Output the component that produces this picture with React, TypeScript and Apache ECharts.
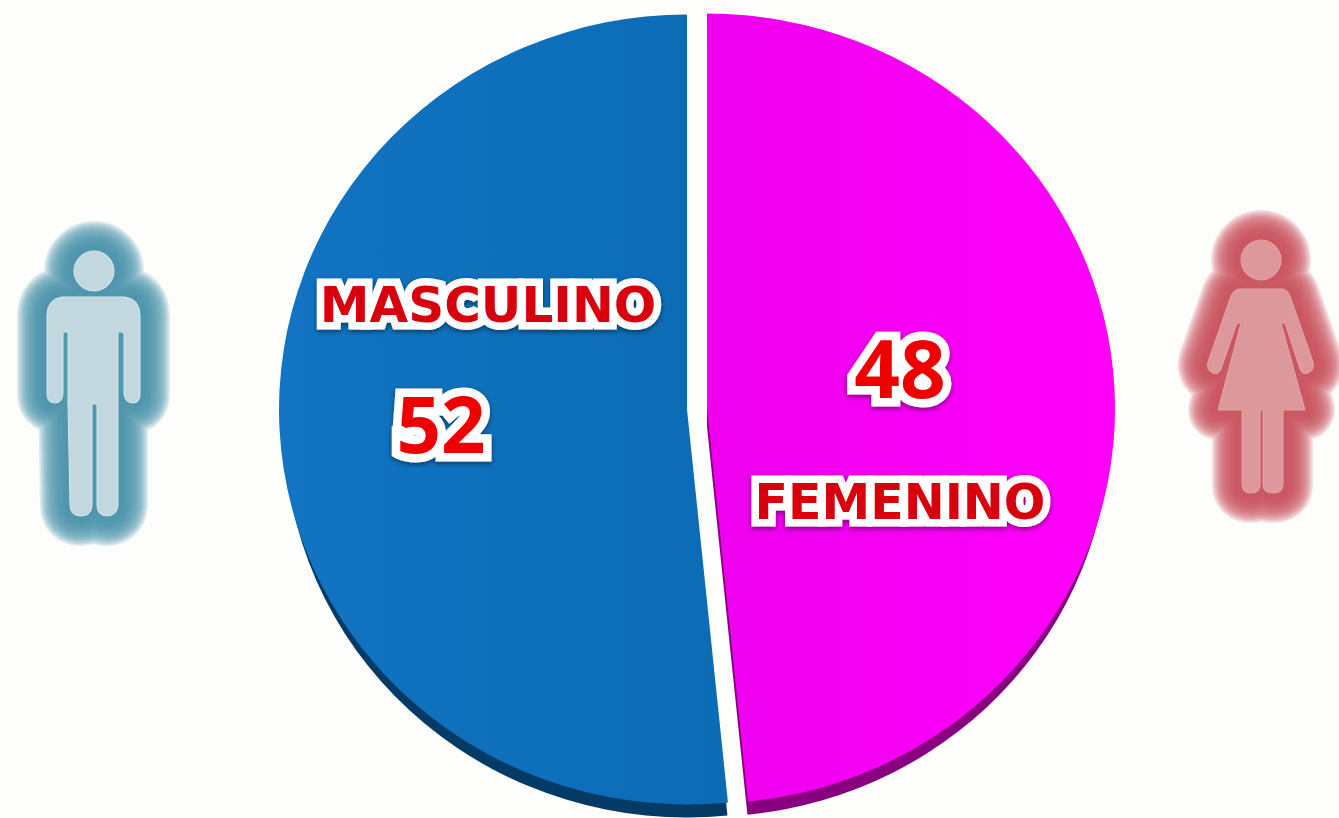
import React, { useEffect, useRef } from "react";
import * as echarts from "echarts";

const categories = ["FEMENINO", "MASCULINO"];
const values = [48.4, 51.6];
const faceColors = [
  ["#ee00ee", "#ff00fb"],
  ["#1274c2", "#0b6bb5"],
];
const shadeColors = ["#86007f", "#033a66"];

const SQUASH = 0.968;
const WIDTH = 1339;
const HEIGHT = 818;

const MAN =
  "M94 251a20 20 0 1 1 0 40a20 20 0 1 1 0-40Z" +
  "M62 297H125Q140 299 140 316V394Q140 403 133 403Q125 403 124 394V334Q124 332 121 332H118L118 505Q117 516 107 516Q97 516 97 505V404H92V505Q92 516 81 516Q70 516 70 505L68 403V332H65Q63 332 63 334V394Q62 403 55 403Q47 403 47 394V316Q47 299 62 297Z";
const WOMAN =
  "M1261 240a20 20 0 1 1 0 40a20 20 0 1 1 0-40Z" +
  "M1240 289H1282Q1287 289 1290 296L1313 362Q1315 370 1308 373Q1302 375 1300 369L1285 323H1281L1305 410H1283V485Q1283 493 1273 493Q1263 493 1263 485V410H1260V485Q1260 493 1251 493Q1242 493 1242 485V410H1218L1241 323H1237L1221 369Q1219 375 1213 373Q1206 370 1208 362L1231 296Q1234 289 1240 289Z";

echarts.graphic.registerShape("manIcon", echarts.graphic.extendPath(MAN, {}));
echarts.graphic.registerShape("womanIcon", echarts.graphic.extendPath(WOMAN, {}));

const glowWidths = [60, 57, 54, 51, 48, 45, 42, 39, 36, 33, 30, 27, 24, 21, 18, 15, 12, 9];

function icon(type: string, glow: string, inner: string, fill: string) {
  const layers: any[] = glowWidths.map((w) => ({
    type,
    silent: true,
    z: 10,
    style: { fill: glow, stroke: glow, lineWidth: w, lineJoin: "round", opacity: 0.17 },
  }));
  layers.push({
    type,
    silent: true,
    z: 11,
    style: { fill, stroke: inner, lineWidth: 1, lineJoin: "round" },
  });
  return layers;
}

function label(
  text: string,
  cx: number,
  cy: number,
  font: string,
  size: number,
  outline: number,
  color: string
) {
  return {
    type: "text",
    x: cx,
    y: cy,
    silent: true,
    z: 12,
    style: {
      text,
      fill: color,
      stroke: "#ffffff",
      lineWidth: outline,
      lineJoin: "round",
      font: `bold ${size}px ${font}`,
      align: "center",
      verticalAlign: "middle",
      textShadowColor: "rgba(0,0,0,0.5)",
      textShadowBlur: 5,
      textShadowOffsetY: 2,
    },
  };
}

function pieData(colorsFor: (i: number) => any) {
  return categories.map((name, i) => ({
    name,
    value: values[i],
    selected: true,
    itemStyle: { color: colorsFor(i) },
  }));
}

export default function App() {
  const ref = useRef<HTMLDivElement>(null);
  useEffect(() => {
    const chart = echarts.init(ref.current!, null, { renderer: "svg" });
    const basePie = {
      type: "pie",
      startAngle: 90,
      clockwise: true,
      selectedMode: "multiple",
      selectedOffset: 10,
      silent: true,
      label: { show: false },
      labelLine: { show: false },
      emphasis: { disabled: true },
    };
    chart.setOption({
      animation: false,
      backgroundColor: "transparent",
      series: [
        {
          ...basePie,
          name: "sombra",
          z: 1,
          radius: 403,
          center: [697, 422.5 + 18 / SQUASH],
          data: pieData((i) => shadeColors[i]),
        },
        {
          ...basePie,
          name: "sexo",
          z: 2,
          radius: 408,
          center: [697, 422.5],
          data: pieData((i) => ({
            type: "linear",
            x: 0,
            y: 0,
            x2: 1,
            y2: 0,
            colorStops: [
              { offset: 0, color: faceColors[i][0] },
              { offset: 1, color: faceColors[i][1] },
            ],
          })),
        },
      ],
      graphic: [
        {
          type: "group",
          x: 0,
          y: 0,
          scaleY: 1 / SQUASH,
          children: [
            ...icon("manIcon", "#4f97aa", "#cfeaf3", "#c3d7de"),
            ...icon("womanIcon", "#c9525e", "#e6a5a7", "#dc989b"),
            label(categories[1], 488, 305, "'DejaVu Sans'", 50, 15, "#d8000f"),
            label(String(Math.round(values[1])), 441, 423, "'Open Sans'", 78, 17, "#ee0000"),
            label(String(Math.round(values[0])), 900, 367, "'Open Sans'", 80, 17, "#ee0000"),
            label(categories[0], 900, 503, "'DejaVu Sans'", 49, 15, "#d8000f"),
          ],
        },
      ],
    });
    return () => chart.dispose();
  }, []);
  return (
    <div
      style={{
        position: "fixed",
        left: 0,
        top: 0,
        width: WIDTH,
        height: HEIGHT,
        overflow: "hidden",
        background: "#fdfdfb",
      }}
    >
      <div
        ref={ref}
        style={{
          width: WIDTH,
          height: HEIGHT / SQUASH,
          transform: `scaleY(${SQUASH})`,
          transformOrigin: "0 0",
        }}
      />
    </div>
  );
}
